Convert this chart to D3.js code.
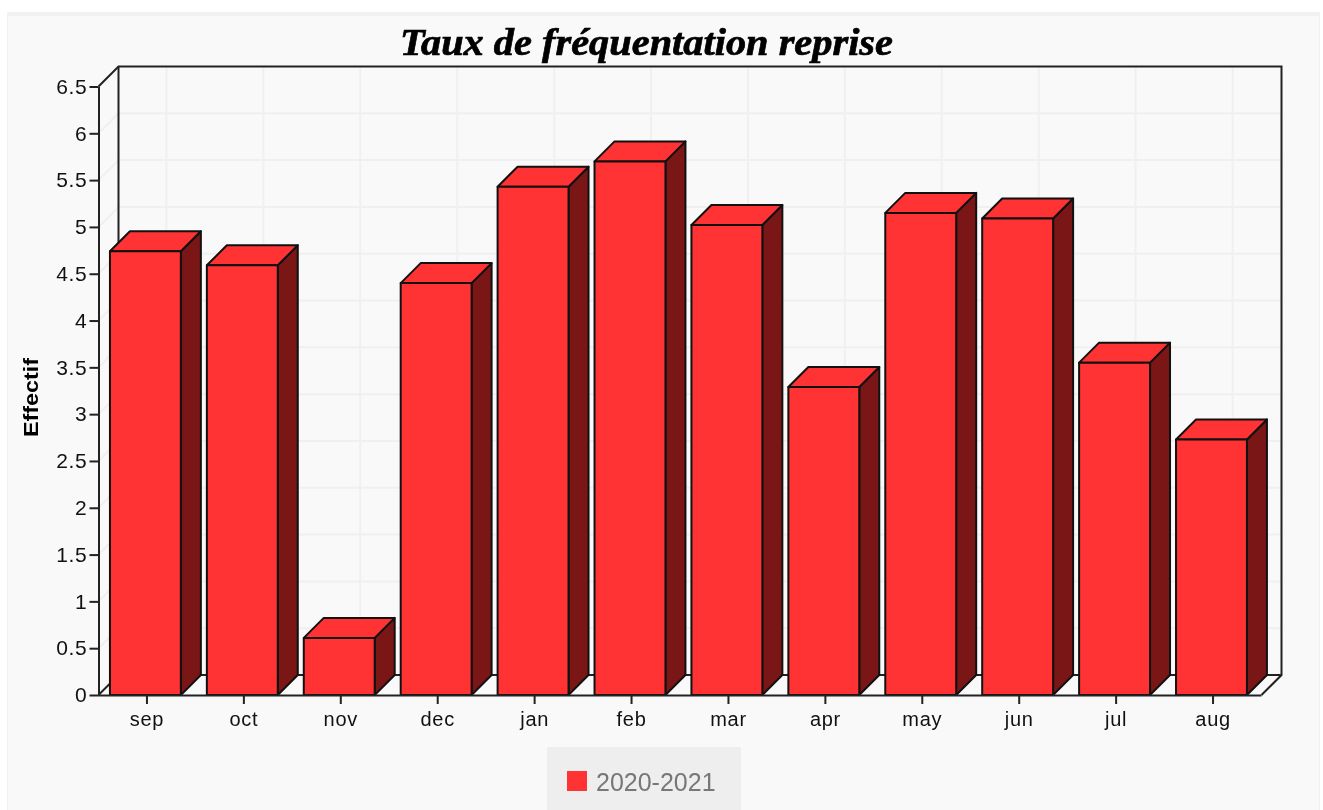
<!DOCTYPE html>
<html><head><meta charset="utf-8">
<script src="https://cdn.jsdelivr.net/npm/d3@7"></script>
<style>
html,body{margin:0;padding:0;background:#fff;overflow:hidden}
svg{display:block;filter:blur(0.45px)}
text{font-family:"Liberation Sans",Arial,sans-serif}
</style></head><body><div id="chart"></div>
<script>
const months=["sep","oct","nov","dec","jan","feb","mar","apr","may","jun","jul","aug"];
const values=[4.74,4.59,0.61,4.40,5.43,5.70,5.02,3.29,5.15,5.09,3.55,2.73];
const yTicks=[0,0.5,1,1.5,2,2.5,3,3.5,4,4.5,5,5.5,6,6.5];
const seriesName="2020-2021";
const titleText="Taux de fréquentation reprise";
const yLabel="Effectif";
const W=1323,H=810,depth=20;
const x0=98.5,x1=1261.5,y0=695,yTop=86.5;
const svg=d3.select("#chart").append("svg").attr("width",W).attr("height",H);
svg.append("rect").attr("x",7).attr("y",12).attr("width",1313).attr("height",H-12).attr("fill","#f1f1f1");
svg.append("rect").attr("x",8).attr("y",16).attr("width",1311).attr("height",H-16).attr("fill","#f9f9f9");
const x=d3.scaleBand().domain(months).range([x0,x1]).paddingInner(26/96.9).paddingOuter(13/96.9).align(0.44);
const xTickScale=d3.scalePoint().domain(months).range([x0-0.5,x1-0.5]).padding(0.5);
const y=d3.scaleLinear().domain([0,6.5]).range([y0,yTop]);
const grid=svg.append("g").attr("fill","none").attr("stroke","#f0f0f0").attr("stroke-width",2);
yTicks.slice(1,-1).forEach(t=>{
  grid.append("path").attr("d",`M${x0},${y(t)}L${x0+depth},${y(t)-depth}L${x1+depth},${y(t)-depth}`);
});
months.forEach(m=>{
  const gx=xTickScale(m)+depth;
  grid.append("line").attr("x1",gx).attr("x2",gx).attr("y1",yTop-depth).attr("y2",y0-depth);
});
const frame=svg.append("g").attr("fill","none").attr("stroke","#222").attr("stroke-width",2);
frame.append("path").attr("d",`M${x0},${yTop}L${x0+depth},${yTop-depth}L${x1+depth},${yTop-depth}L${x1+depth},${y0-depth}L${x1},${y0}`);
frame.append("path").attr("d",`M${x0+depth},${yTop-depth}L${x0+depth},${y0-depth}L${x1+depth},${y0-depth}`);
frame.append("path").attr("d",`M${x0},${y0}L${x0+depth},${y0-depth}`);
const bars=svg.append("g").selectAll("g").data(months.map((m,i)=>({m,v:values[i]}))).join("g")
  .attr("stroke","#111").attr("stroke-width",2).attr("stroke-linejoin","round");
bars.append("path").attr("fill","#7b1616").attr("d",d=>{
  const r=x(d.m)+x.bandwidth(),t=y(d.v);
  return `M${r},${t}L${r+depth},${t-depth}L${r+depth},${y0-depth}L${r},${y0}Z`;
});
bars.append("path").attr("fill","#ff3333").attr("d",d=>{
  const l=x(d.m),r=l+x.bandwidth(),t=y(d.v);
  return `M${l},${t}L${l+depth},${t-depth}L${r+depth},${t-depth}L${r},${t}Z`;
});
bars.append("rect").attr("fill","#ff3333").attr("x",d=>x(d.m)).attr("y",d=>y(d.v))
  .attr("width",x.bandwidth()).attr("height",d=>y0-y(d.v));
const ay=svg.append("g").attr("transform",`translate(${x0},0)`)
  .call(d3.axisLeft(y).tickValues(yTicks).tickFormat(d=>String(d)).tickSize(9).tickSizeOuter(0).tickPadding(2));
const ax=svg.append("g").attr("transform",`translate(0,${y0})`)
  .call(d3.axisBottom(xTickScale).tickSize(9).tickSizeOuter(0).tickPadding(8));
[ay,ax].forEach(a=>{
  a.selectAll("path,line").attr("stroke","#222").attr("stroke-width",2);
  a.selectAll("text").attr("fill","#111").style("font-family",'"Liberation Sans",Arial,sans-serif')
   .style("font-size","21px").style("letter-spacing","0.7px");
});
ax.selectAll("text").style("font-size","20px");
svg.append("text").attr("x",400).attr("y",55).attr("textLength",493).attr("lengthAdjust","spacingAndGlyphs")
  .style("font-family",'"Liberation Serif","Times New Roman",serif').style("font-size","38px")
  .style("font-weight","bold").style("font-style","italic").attr("fill","#000").attr("stroke","#000").attr("stroke-width",0.7).text(titleText);
svg.append("text").attr("transform","translate(38,437) rotate(-90)").attr("textLength",79).attr("lengthAdjust","spacingAndGlyphs")
  .style("font-size","19.5px").style("font-weight","bold").attr("fill","#000").text(yLabel);
const lg=svg.append("g");
lg.append("rect").attr("x",547).attr("y",747).attr("width",194).attr("height",63).attr("fill","#eeeeee");
lg.append("rect").attr("x",567).attr("y",771).attr("width",20).attr("height",20).attr("fill","#ff3333");
lg.append("text").attr("x",596).attr("y",791).style("font-size","25px").attr("fill","#777").text(seriesName);
</script></body></html>
